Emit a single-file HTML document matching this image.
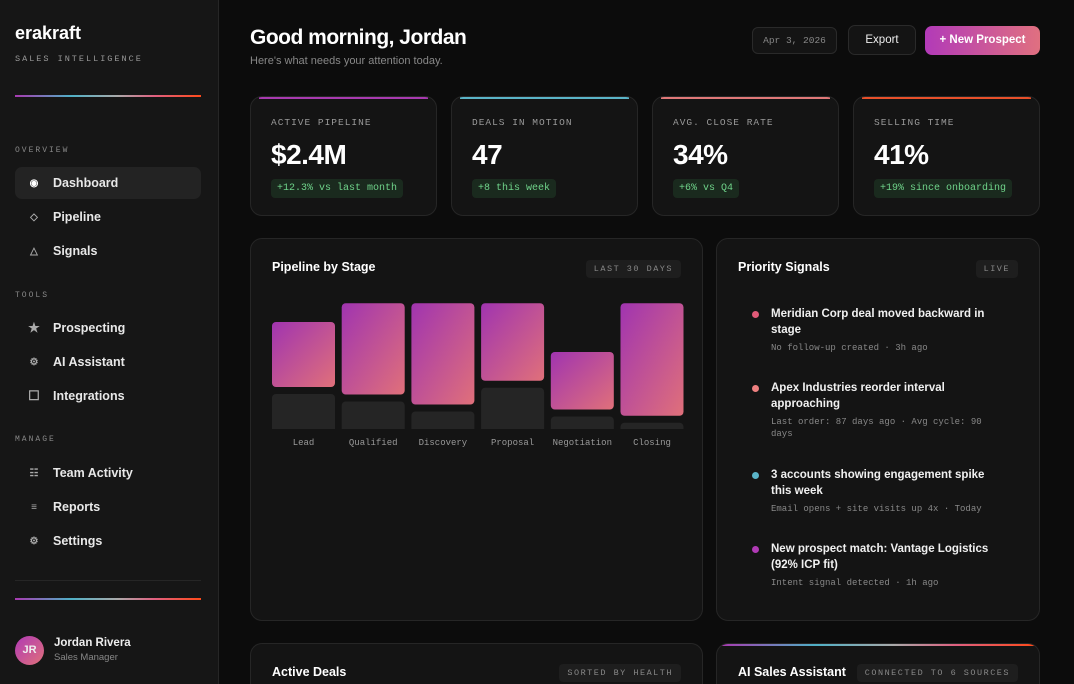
<!DOCTYPE html>
<html><head><meta charset="utf-8">
<style>
*{box-sizing:border-box;margin:0;padding:0}
html{width:1074px;height:684px;overflow:hidden;background:#0c0c0c}
body{width:1074px;height:684px;overflow:hidden;background:#0c0c0c;font-family:"Liberation Sans",sans-serif;color:#eee;position:relative}
.mono{font-family:"Liberation Mono",monospace}
#sb{position:absolute;left:0;top:0;width:219px;height:684px;background:#161616;border-right:1px solid #262626}
.grad{height:2px;background:linear-gradient(90deg,#a83ab0,#4fb0c6 30%,#aaa 55%,#e06080 75%,#ff4a1a)}
.sec{position:absolute;left:15px;font-size:8px;letter-spacing:2px;color:#888}
.nav{position:absolute;left:15px;width:186px;height:32px;border-radius:7px;font-size:12.5px;font-weight:bold;color:#e8e8e8;display:flex;align-items:center}
.nav .ic{width:38px;text-align:center;color:#aaa;font-size:10px}
.card{position:absolute;background:#141414;border:1px solid #262626;border-radius:12px;overflow:hidden}
.kl{position:absolute;left:20px;top:20px;font-size:9.5px;letter-spacing:1px;color:#999}
.kv{position:absolute;left:20px;top:42px;font-size:28px;font-weight:bold;color:#fff;letter-spacing:-.5px}
.kb{position:absolute;left:20px;top:82px;height:19px;padding:0 6px;line-height:19px;background:#1a2a1e;color:#6fd38a;font-size:10px;border-radius:4px}
.tag{position:absolute;height:18px;line-height:18px;padding:0 8px;background:#1e1e1e;border-radius:4px;font-size:8.5px;letter-spacing:1.5px;color:#888}
.ct{position:absolute;left:21px;top:21px;font-size:12.5px;font-weight:bold;color:#fff}
.sig{position:absolute;left:54px;width:226px}
.sig .t{font-size:11.5px;font-weight:bold;color:#f0f0f0;line-height:15.5px}
.sig .s{font-size:9px;color:#888;margin-top:4px;line-height:12px}
.dot{position:absolute;left:-19px;top:4px;width:7px;height:7px;border-radius:50%}
.cut{border-bottom:none;border-bottom-left-radius:0;border-bottom-right-radius:0}
</style></head><body>
<div id="sb">
 <div style="position:absolute;left:15px;top:23px;font-size:18px;font-weight:bold;color:#fff">erakraft</div>
 <div class="mono" style="position:absolute;left:15px;top:54px;font-size:8.5px;letter-spacing:2px;color:#999">SALES INTELLIGENCE</div>
 <div class="grad" style="position:absolute;left:15px;top:95px;width:186px"></div>
 <div class="sec mono" style="top:146px">OVERVIEW</div>
 <div class="nav" style="top:167px;background:#232323"><span class="ic" style="color:#fff">◉</span>Dashboard</div>
 <div class="nav" style="top:201px"><span class="ic">◇</span>Pipeline</div>
 <div class="nav" style="top:235px"><span class="ic">△</span>Signals</div>
 <div class="sec mono" style="top:291px">TOOLS</div>
 <div class="nav" style="top:312px"><span class="ic" style="font-size:13px">★</span>Prospecting</div>
 <div class="nav" style="top:346px"><span class="ic">⚙</span>AI Assistant</div>
 <div class="nav" style="top:380px"><span class="ic" style="font-size:13px">☐</span>Integrations</div>
 <div class="sec mono" style="top:435px">MANAGE</div>
 <div class="nav" style="top:457px"><span class="ic">☷</span>Team Activity</div>
 <div class="nav" style="top:491px"><span class="ic">≡</span>Reports</div>
 <div class="nav" style="top:525px"><span class="ic">⚙</span>Settings</div>
 <div style="position:absolute;left:15px;top:580px;width:186px;height:1px;background:#262626"></div>
 <div class="grad" style="position:absolute;left:15px;top:598px;width:186px"></div>
 <div style="position:absolute;left:15px;top:636px;width:29px;height:29px;border-radius:50%;background:linear-gradient(135deg,#b03ab5,#e0707a);font-size:11px;font-weight:bold;text-align:center;line-height:29px">JR</div>
 <div style="position:absolute;left:54px;top:637px;font-size:11.5px;font-weight:bold">Jordan Rivera</div>
 <div style="position:absolute;left:54px;top:652px;font-size:9.5px;color:#888">Sales Manager</div>
</div>

<div style="position:absolute;left:250px;top:26px;font-size:21px;font-weight:bold;color:#fff;letter-spacing:-.5px">Good morning, Jordan</div>
<div style="position:absolute;left:250px;top:55px;font-size:11px;color:#888">Here's what needs your attention today.</div>
<div class="mono" style="position:absolute;left:752px;top:27px;width:85px;height:27px;border:1px solid #2a2a2a;border-radius:6px;background:#141414;font-size:9.5px;color:#888;text-align:center;line-height:26px">Apr 3, 2026</div>
<div style="position:absolute;left:848px;top:25px;width:68px;height:30px;border:1px solid #2a2a2a;border-radius:7px;background:#141414;font-size:11.5px;color:#eee;text-align:center;line-height:29px">Export</div>
<div style="position:absolute;left:925px;top:26px;width:115px;height:29px;border-radius:7px;background:linear-gradient(90deg,#b23ab8,#e07080);font-size:11.5px;font-weight:bold;color:#fff;text-align:center;line-height:29px">+ New Prospect</div>

<div class="card" style="left:250px;top:96px;width:187px;height:120px"><div style="height:2px;margin:0 8px;background:#a83ab0"></div><div class="kl mono">ACTIVE PIPELINE</div><div class="kv">$2.4M</div><div class="kb mono">+12.3% vs last month</div></div>
<div class="card" style="left:451px;top:96px;width:187px;height:120px"><div style="height:2px;margin:0 8px;background:#5ab4c8"></div><div class="kl mono">DEALS IN MOTION</div><div class="kv">47</div><div class="kb mono">+8 this week</div></div>
<div class="card" style="left:652px;top:96px;width:187px;height:120px"><div style="height:2px;margin:0 8px;background:#e07878"></div><div class="kl mono">AVG. CLOSE RATE</div><div class="kv">34%</div><div class="kb mono">+6% vs Q4</div></div>
<div class="card" style="left:853px;top:96px;width:187px;height:120px"><div style="height:2px;margin:0 8px;background:#e8502a"></div><div class="kl mono">SELLING TIME</div><div class="kv">41%</div><div class="kb mono">+19% since onboarding</div></div>

<div class="card" style="left:250px;top:238px;width:453px;height:383px">
 <div class="ct">Pipeline by Stage</div>
 <div class="tag mono" style="right:21px;top:21px">LAST 30 DAYS</div>
 <svg id="chart" width="453" height="230" style="position:absolute;left:0;top:50px">
  <defs><linearGradient id="pg" x1="0" y1="0" x2="1" y2="1"><stop offset="0" stop-color="#a034b0"/><stop offset="1" stop-color="#e0707a"/></linearGradient></defs>
 </svg>
</div>

<div class="card" style="left:716px;top:238px;width:324px;height:383px">
 <div class="ct">Priority Signals</div>
 <div class="tag mono" style="right:21px;top:21px">LIVE</div>
 <div class="sig" style="top:68px"><span class="dot" style="background:#e05a78"></span><div class="t">Meridian Corp deal moved backward in stage</div><div class="s mono">No follow-up created · 3h ago</div></div>
 <div class="sig" style="top:142px"><span class="dot" style="background:#ee8080"></span><div class="t">Apex Industries reorder interval approaching</div><div class="s mono">Last order: 87 days ago · Avg cycle: 90 days</div></div>
 <div class="sig" style="top:229px"><span class="dot" style="background:#5ab4c8"></span><div class="t">3 accounts showing engagement spike this week</div><div class="s mono">Email opens + site visits up 4x · Today</div></div>
 <div class="sig" style="top:303px"><span class="dot" style="background:#b03ab5"></span><div class="t">New prospect match: Vantage Logistics (92% ICP fit)</div><div class="s mono">Intent signal detected · 1h ago</div></div>
</div>

<div class="card cut" style="left:250px;top:643px;width:453px;height:41px">
 <div class="ct">Active Deals</div>
 <div class="tag mono" style="right:21px;top:20px">SORTED BY HEALTH</div>
</div>
<div class="card cut" style="left:716px;top:643px;width:324px;height:41px">
 <div class="grad" style="margin:0 4px"></div>
 <div class="ct">AI Sales Assistant</div>
 <div class="tag mono" style="right:21px;top:20px">CONNECTED TO 6 SOURCES</div>
</div>

<script>
const stages=["Lead","Qualified","Discovery","Proposal","Negotiation","Closing"];
const primaryValues=[52,73,81,62,46,90];
const secondaryValues=[28,22,14,33,10,5];
const svg=document.getElementById('chart');
const NS='http://www.w3.org/2000/svg';
const base=140, k=1.25, gap=7, x0=21, bw=63, step=69.7;
function xPos(i){return x0+i*step;}
function hPx(v){return v*k;}
stages.forEach((s,i)=>{
 const x=xPos(i);
 const gh=hPx(secondaryValues[i]);
 const g=document.createElementNS(NS,'rect');
 g.setAttribute('x',x);g.setAttribute('y',base-gh);g.setAttribute('width',bw);g.setAttribute('height',gh+4);g.setAttribute('rx',4);g.setAttribute('fill','#252525');
 
 
 svg.appendChild(g);
 const ph=hPx(primaryValues[i]);
 const p=document.createElementNS(NS,'rect');
 p.setAttribute('x',x);p.setAttribute('y',base-gh-gap-ph);p.setAttribute('width',bw);p.setAttribute('height',ph);p.setAttribute('rx',4);p.setAttribute('fill','url(#pg)');
 
 
 svg.appendChild(p);
 const t=document.createElementNS(NS,'text');
 t.setAttribute('x',x+bw/2);t.setAttribute('y',base+16);t.setAttribute('text-anchor','middle');t.setAttribute('fill','#999');t.setAttribute('font-size','9');t.setAttribute('font-family','Liberation Mono, monospace');
 t.textContent=s;
 
 
 svg.appendChild(t);
});
const m=document.createElementNS(NS,'rect');
m.setAttribute('x',0);m.setAttribute('y',base);m.setAttribute('width',453);m.setAttribute('height',4);m.setAttribute('fill','#141414');
svg.appendChild(m);
</script>
</body></html>
